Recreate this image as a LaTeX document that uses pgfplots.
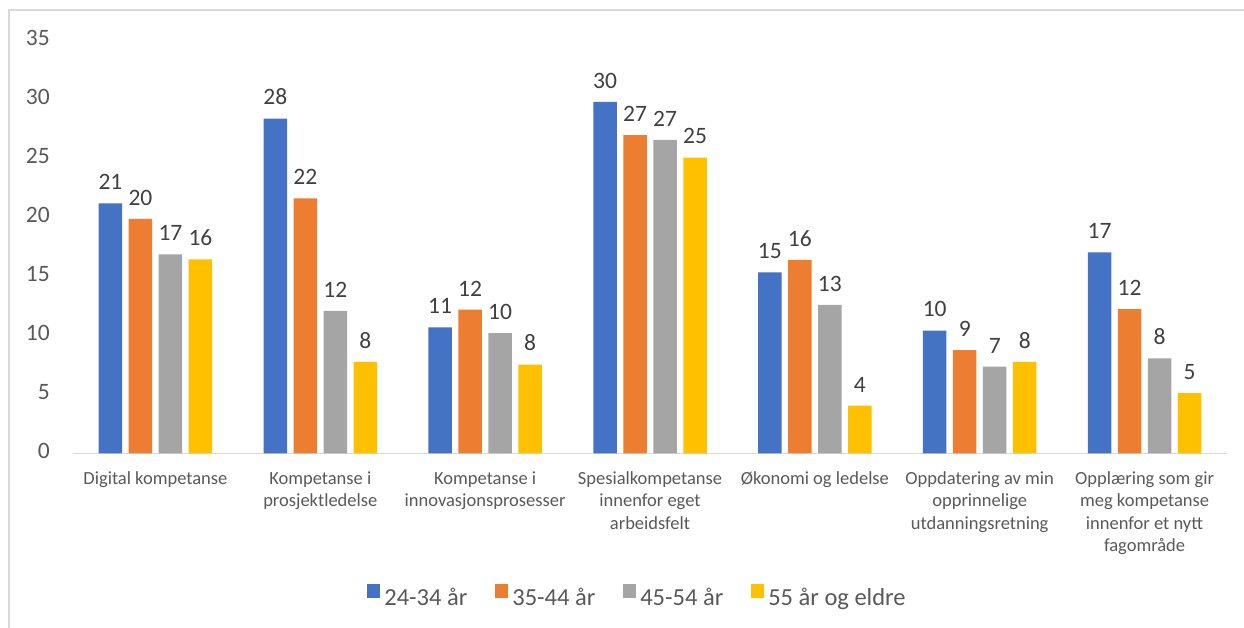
\documentclass[border=0pt]{standalone}
\usepackage{fontspec}
\setmainfont{Carlito}
\usepackage{pgfplots}
\pgfplotsset{compat=1.18}
\definecolor{cBlue}{HTML}{4472C4}
\definecolor{cOrange}{HTML}{ED7D31}
\definecolor{cGray}{HTML}{A5A5A5}
\definecolor{cYellow}{HTML}{FFC000}
\definecolor{txtgray}{HTML}{595959}
\definecolor{lblgray}{HTML}{404040}
\definecolor{linegray}{HTML}{D9D9D9}
\begin{document}
\begin{tikzpicture}[x=1pt,y=1pt]
\path[use as bounding box] (0,0) rectangle (1244,628);
\draw[color=linegray, line width=2pt] (8.5,0) -- (8.5,618) -- (1244,618);
\begin{axis}[
  at={(73pt,174.5pt)}, anchor=south west,
  width=1154pt, height=413.5pt, scale only axis,
  xmin=-0.5, xmax=6.5, ymin=0, ymax=35,
  ytick={0,5,...,35},
  xtick={0,...,6},
  xticklabels={{Digital kompetanse},{Kompetanse i\\prosjektledelse},{Kompetanse i\\innovasjonsprosesser},{Spesialkompetanse\\innenfor eget\\arbeidsfelt},{Økonomi og ledelse},{Oppdatering av min\\opprinnelige\\utdanningsretning},{Opplæring som gir\\meg kompetanse\\innenfor et nytt\\fagområde}},
  /pgf/number format/assume math mode=true,
  axis x line*=bottom, axis y line*=left,
  y axis line style={draw=none},
  x axis line style={-, draw=linegray, line width=1.8pt},
  major tick length=0pt,
  xtick style={draw=none}, ytick style={draw=none},
  yticklabel style={font=\fontsize{23.5}{27}\selectfont, text=txtgray, inner sep=0pt, anchor=east, xshift=-23pt},
  xticklabel style={font=\fontsize{18.5}{22.5}\selectfont, text=txtgray, align=center, anchor=north, inner sep=0pt, yshift=-15pt},
  typeset ticklabels with strut,
  ybar=6.5pt, bar width=23.5pt,
  nodes near coords={\pgfmathprintnumber[fixed,precision=0]{\pgfplotspointmeta}},
  every node near coord/.append style={font=\fontsize{23.5}{27}\selectfont, text=lblgray, yshift=10pt},
  legend columns=4,
  legend style={at={(axis description cs:0.49,-0.347)}, anchor=center, draw=none, font=\fontsize{24.5}{28}\selectfont, text=txtgray, nodes={inner xsep=4pt, inner ysep=3pt}, /tikz/every even column/.append style={column sep=24pt}},
  legend image code/.code={\draw[#1,draw=none] (0pt,0pt) rectangle (13pt,14pt);},
]
\addplot[fill=cBlue, draw=none] coordinates {(0,21.18) (1,28.35) (2,10.68) (3,29.76) (4,15.34) (5,10.40) (6,17.03)};
\addplot[fill=cOrange, draw=none] coordinates {(0,19.85) (1,21.60) (2,12.18) (3,26.94) (4,16.38) (5,8.76) (6,12.21)};
\addplot[fill=cGray, draw=none] coordinates {(0,16.86) (1,12.07) (2,10.18) (3,26.55) (4,12.57) (5,7.35) (6,8.06)};
\addplot[fill=cYellow, draw=none] coordinates {(0,16.44) (1,7.75) (2,7.52) (3,25.05) (4,4.05) (5,7.75) (6,5.10)};
\legend{24-34 år, 35-44 år, 45-54 år, 55 år og eldre}
\end{axis}
\end{tikzpicture}
\end{document}
